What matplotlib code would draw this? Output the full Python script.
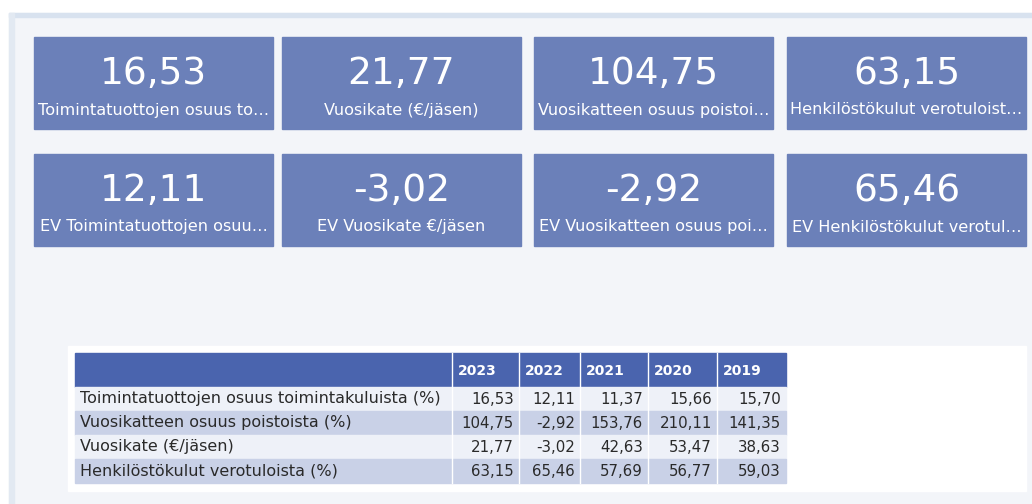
import matplotlib.pyplot as plt
from matplotlib.patches import Rectangle

# KPI cards (top row: current year, bottom row: previous year "EV")
card_values = ['16,53', '21,77', '104,75', '63,15']
card_labels = ['Toimintatuottojen osuus to…', 'Vuosikate (€/jäsen)',
               'Vuosikatteen osuus poistoi…', 'Henkilöstökulut verotuloist…']
ev_values = ['12,11', '-3,02', '-2,92', '65,46']
ev_labels = ['EV Toimintatuottojen osuu…', 'EV Vuosikate €/jäsen',
             'EV Vuosikatteen osuus poi…', 'EV Henkilöstökulut verotul…']

# table
years = ['2023', '2022', '2021', '2020', '2019']
row_labels = ['Toimintatuottojen osuus toimintakuluista (%)',
              'Vuosikatteen osuus poistoista (%)',
              'Vuosikate (€/jäsen)',
              'Henkilöstökulut verotuloista (%)']
toiminta = [16.53, 12.11, 11.37, 15.66, 15.70]
vuosikate_poistot = [104.75, -2.92, 153.76, 210.11, 141.35]
vuosikate_jasen = [21.77, -3.02, 42.63, 53.47, 38.63]
henkilosto = [63.15, 65.46, 57.69, 56.77, 59.03]
table_rows = [toiminta, vuosikate_poistot, vuosikate_jasen, henkilosto]

W, H = 1032, 504
card_color = '#6b80b9'
header_color = '#4a64ae'
row_colors = ['#eef1f8', '#c9d1e7']
panel_bg = '#f3f5f9'


def fmt(v):
    return f'{v:.2f}'.replace('.', ',')


fig = plt.figure(figsize=(W / 100, H / 100), dpi=100)
ax = fig.add_axes([0, 0, 1, 1])
ax.set_xlim(0, W)
ax.set_ylim(H, 0)
ax.axis('off')

# page + panel
ax.add_patch(Rectangle((0, 0), W, H, color='white', zorder=0))
ax.add_patch(Rectangle((9, 13), W - 9, H - 13, color=panel_bg, zorder=1))
ax.add_patch(Rectangle((9, 13), W - 9, 4, color='#d8e2ef', zorder=1))
ax.add_patch(Rectangle((9, 13), 5, H - 13, color='#e2e9f2', zorder=1))

# cards
card_x = [34, 282, 534, 787]
card_w = 239
card_h = 92
for row, (vals, labs) in enumerate([(card_values, card_labels), (ev_values, ev_labels)]):
    y0 = 37 + row * 117
    for x0, v, lab in zip(card_x, vals, labs):
        ax.add_patch(Rectangle((x0, y0), card_w, card_h, color=card_color, zorder=2))
        ax.text(x0 + card_w / 2, y0 + 37, v, color='white', fontsize=27,
                ha='center', va='center', zorder=3)
        ax.text(x0 + card_w / 2, y0 + 73, lab, color='white', fontsize=11.6,
                ha='center', va='center', zorder=3)

# table area
ax.add_patch(Rectangle((68, 346), 958, 145, color='white', zorder=2))
tx0 = 75
col_edges = [452, 519, 580, 648, 717, 786]
head_top, head_h = 353, 34
row_h = 24
ax.add_patch(Rectangle((tx0, head_top), col_edges[-1] - tx0, head_h,
                       color=header_color, zorder=3))
for i, yr in enumerate(years):
    ax.text(col_edges[i] + 6, head_top + head_h / 2 + 1, yr, color='white',
            fontsize=10, fontweight='bold', ha='left', va='center', zorder=4)
for e in col_edges[:-1]:
    ax.plot([e, e], [head_top, head_top + head_h + 4 * row_h], color='white',
            lw=1, zorder=4)

for r, (lab, vals) in enumerate(zip(row_labels, table_rows)):
    y0 = head_top + head_h + r * row_h
    ax.add_patch(Rectangle((tx0, y0), col_edges[-1] - tx0, row_h,
                           color=row_colors[r % 2], zorder=3))
    ax.text(tx0 + 5, y0 + row_h / 2, lab, color='#2a2a2a', fontsize=11.5,
            ha='left', va='center', zorder=5)
    for i, v in enumerate(vals):
        ax.text(col_edges[i + 1] - 5, y0 + row_h / 2, fmt(v), color='#2a2a2a',
                fontsize=10.8, ha='right', va='center', zorder=5)

fig.savefig('out.png', dpi=100)
